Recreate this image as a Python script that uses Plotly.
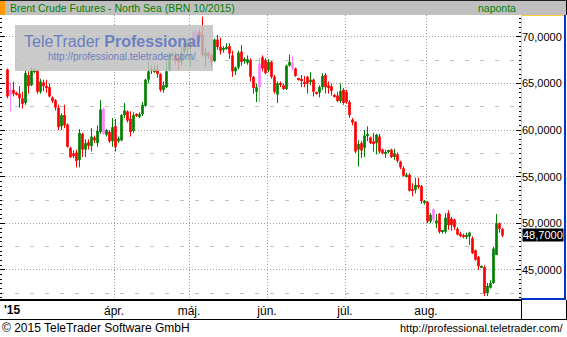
import pandas as pd
import plotly.graph_objects as go

# ---- data ----
dates = pd.bdate_range('2015-02-18', '2015-08-31', freq='C',
                       weekmask='Sun Mon Tue Wed Thu Fri', holidays=['2015-04-03'])

open_ = [66.5, 63.7, 64.3, 64.0, 63.9, 63.4, 62.9, 65.9, 64.8, 66.3,
         66.4, 64.1, 65.1, 64.7, 64.6, 63.5, 63.2, 62.4, 60.4, 61.6,
         60.6, 58.1, 57.5, 57.6, 56.8, 59.6, 57.9, 58.7, 58.3, 59.2,
         58.6, 59.8, 59.6, 59.5, 59.8, 58.8, 60.4, 58.8, 58.9, 61.6,
         62.0, 61.2, 59.9, 61.7, 61.5, 61.7, 62.6, 65.4, 66.5, 66.3,
         66.5, 66.0, 64.3, 64.6, 66.4, 68.0, 68.0, 67.8, 67.3, 68.4,
         69.3, 68.9, 69.4, 69.3, 70.5, 70.2, 67.9, 68.3, 68.0, 67.4,
         69.7, 68.9, 68.6, 68.7, 69.0, 68.0, 66.3, 66.7, 68.4, 67.4,
         67.2, 67.5, 65.7, 64.1, 64.6, 67.8, 67.5, 66.4, 67.3, 65.7,
         63.8, 65.0, 64.8, 64.4, 66.9, 66.6, 66.6, 65.5, 65.4, 65.1,
         65.7, 65.2, 65.4, 64.0, 64.0, 64.6, 65.9, 64.8, 64.7, 63.7,
         63.7, 63.1, 64.3, 64.1, 63.0, 61.1, 60.9, 57.9, 58.6, 58.1,
         59.4, 59.2, 58.8, 58.6, 59.3, 57.9, 57.5, 57.7, 57.9, 57.1,
         57.4, 56.6, 55.9, 55.0, 55.2, 53.6, 53.6, 54.0, 54.0, 52.2,
         52.3, 50.2, 50.4, 50.0, 51.0, 49.1, 49.1, 51.1, 50.5, 50.4,
         49.4, 48.9, 48.7, 48.6, 48.6, 48.4, 47.1, 46.4, 45.3, 45.3,
         42.5, 43.1, 43.6, 46.6, 50.0, 49.4]
high = [66.6, 65.1, 65.2, 64.1, 64.7, 64.1, 66.4, 66.3, 66.7, 66.6,
        66.5, 65.5, 65.4, 65.4, 65.0, 63.6, 63.3, 62.7, 61.8, 62.7,
        60.7, 58.2, 57.8, 57.9, 60.1, 59.7, 59.0, 59.0, 60.2, 59.4,
        60.5, 63.2, 62.4, 60.1, 60.0, 61.3, 61.2, 59.3, 61.7, 62.9,
        62.1, 62.0, 61.9, 61.8, 61.9, 63.0, 65.5, 67.3, 66.9, 67.0,
        67.0, 66.1, 65.2, 67.3, 68.4, 68.4, 68.4, 68.2, 68.9, 69.6,
        69.8, 69.6, 70.7, 70.8, 70.8, 72.15, 68.8, 68.4, 68.2, 69.8,
        70.2, 69.9, 69.0, 69.3, 69.3, 68.5, 66.8, 68.5, 69.1, 67.8,
        68.0, 67.7, 65.8, 65.0, 67.7, 68.0, 67.7, 67.6, 67.4, 65.9,
        65.2, 65.2, 65.0, 67.0, 68.1, 67.9, 66.7, 65.6, 65.9, 65.8,
        65.8, 66.2, 65.5, 64.1, 64.8, 66.1, 66.1, 65.2, 65.0, 63.9,
        64.1, 65.0, 64.5, 64.3, 63.2, 61.3, 60.9, 58.9, 58.8, 60.0,
        60.4, 59.3, 59.7, 59.6, 59.6, 58.0, 57.9, 57.9, 58.0, 58.0,
        57.6, 56.7, 56.1, 55.4, 55.4, 54.3, 54.9, 54.9, 54.1, 52.5,
        52.4, 51.1, 51.6, 51.0, 51.1, 49.3, 51.1, 51.4, 50.7, 50.5,
        49.6, 49.1, 48.9, 49.0, 49.1, 48.6, 47.2, 46.5, 45.5, 45.5,
        43.6, 43.9, 47.5, 51.0, 50.1, 49.5]
low = [63.4, 62.0, 63.6, 63.7, 62.4, 62.3, 62.7, 63.9, 64.7, 66.1,
       63.9, 63.9, 64.2, 64.0, 63.5, 62.9, 62.1, 60.0, 60.0, 60.2,
       58.1, 57.0, 57.0, 56.0, 56.0, 57.1, 57.1, 57.9, 57.7, 58.6,
       58.2, 59.6, 59.5, 59.3, 58.6, 58.2, 57.7, 58.6, 58.8, 61.3,
       60.8, 59.3, 59.7, 61.4, 61.3, 61.5, 62.5, 65.0, 66.0, 66.1,
       65.6, 64.1, 64.0, 64.5, 66.3, 67.8, 67.0, 66.4, 67.0, 68.2,
       68.0, 66.8, 69.1, 69.0, 69.5, 67.9, 66.8, 67.6, 66.8, 67.3,
       68.6, 68.1, 68.3, 68.6, 67.6, 65.7, 65.9, 66.5, 66.9, 67.1,
       67.0, 65.2, 63.9, 63.0, 63.0, 66.3, 66.0, 66.2, 65.5, 63.9,
       62.9, 64.6, 64.3, 64.3, 66.8, 66.4, 65.7, 65.3, 64.6, 64.6,
       63.9, 64.8, 63.6, 63.8, 63.5, 64.3, 63.9, 63.9, 63.7, 63.5,
       63.0, 62.9, 62.7, 62.8, 61.3, 60.5, 57.5, 56.1, 57.0, 57.1,
       58.8, 58.5, 57.7, 57.4, 57.5, 57.4, 57.0, 57.5, 57.0, 56.8,
       56.5, 55.8, 55.0, 54.9, 53.4, 52.9, 53.2, 53.7, 52.1, 52.0,
       50.0, 50.0, 50.2, 49.5, 48.9, 48.9, 48.9, 49.3, 49.2, 49.3,
       48.7, 48.5, 48.4, 48.3, 47.7, 46.7, 46.0, 45.0, 45.2, 42.2,
       42.2, 43.0, 43.5, 46.6, 49.0, 48.5]
close = [63.6, 64.3, 63.9, 63.8, 63.4, 62.8, 66.1, 64.7, 66.4, 66.45,
         64.1, 65.2, 64.7, 64.6, 63.6, 63.1, 62.4, 60.3, 61.6, 60.5,
         58.2, 57.1, 57.2, 56.7, 59.7, 57.9, 58.6, 58.3, 59.3, 58.9,
         59.9, 62.2, 62.3, 60.0, 58.8, 60.3, 58.2, 59.1, 61.6, 62.1,
         61.0, 59.8, 61.6, 61.6, 61.7, 62.7, 65.4, 66.3, 66.4, 66.5,
         66.0, 64.3, 64.8, 66.3, 68.1, 68.2, 67.4, 67.3, 68.3, 69.3,
         68.9, 69.4, 70.5, 70.6, 70.0, 68.1, 68.3, 67.9, 67.3, 69.7,
         68.9, 68.5, 68.7, 68.9, 68.2, 66.3, 66.7, 68.3, 67.3, 67.6,
         67.6, 65.7, 64.5, 64.6, 67.1, 66.6, 66.1, 67.3, 65.7, 64.1,
         65.0, 64.9, 64.4, 66.9, 67.3, 67.2, 65.8, 65.4, 65.3, 65.0,
         65.0, 65.4, 64.1, 63.9, 64.6, 65.8, 64.6, 64.6, 64.2, 63.6,
         63.1, 64.2, 62.9, 63.0, 61.6, 60.8, 57.7, 58.5, 57.8, 59.4,
         59.5, 58.6, 58.6, 59.5, 57.7, 57.5, 57.6, 57.8, 57.1, 57.5,
         56.7, 56.0, 55.1, 55.2, 53.5, 53.5, 54.1, 53.9, 52.4, 52.3,
         50.2, 50.9, 51.5, 50.3, 49.1, 49.2, 50.6, 49.8, 49.8, 49.6,
         48.8, 48.7, 48.6, 48.7, 49.0, 46.8, 46.1, 45.4, 45.4, 42.5,
         43.3, 43.6, 47.3, 50.0, 49.4, 48.7]
pink_idx = [1, 32, 62, 63, 84, 95, 142]

month_names = {4: 'ápr.', 5: 'máj.', 6: 'jún.', 7: 'júl.', 8: 'aug.'}
price_ticks = [45, 50, 55, 60, 65, 70]
last_price = close[-1]

title_text = 'Brent Crude Futures - North Sea (BRN 10/2015)'
period_text = 'naponta'
year_text = "'15"
footer_left = '© 2015 TeleTrader Software GmbH'
footer_right = 'http://professional.teletrader.com/'

# ---- styles ----
FONT = 'Liberation Sans, Arial, sans-serif'
GREEN, RED, PINK = '#008000', '#ff0000', '#ff80ff'
W, H = 567, 337
PL, PR, PT, PB = 0, 521, 15, 299          # plot area in pixels
YR = [41.89, 72.33]
XR = [-2.5, -2.5 + (PR - PL) / 3.0]


def px(x):
    return (x - PL) / (PR - PL)


def py(y):
    return (PB - y) / (PB - PT)


idx = list(range(len(dates)))
groups = {'g': GREEN, 'r': RED, 'p': PINK}
kind = []
for i in idx:
    if i in pink_idx:
        kind.append('p')
    elif close[i] >= open_[i]:
        kind.append('g')
    else:
        kind.append('r')

fig = go.Figure()
# bodies
for k, col in groups.items():
    sel = [i for i in idx if kind[i] == k]
    fig.add_trace(go.Bar(
        x=sel,
        base=[min(open_[i], close[i]) for i in sel],
        y=[max(abs(close[i] - open_[i]), 0.12) for i in sel],
        width=0.9, marker=dict(color=col, line=dict(width=0)),
        customdata=[dates[i].strftime('%Y-%m-%d') for i in sel],
        hovertemplate='%{customdata}<extra></extra>'))
# wicks (on the overlaid axis that also carries the 2.5-step dashed grid)
for k, col in groups.items():
    xs, ys = [], []
    for i in idx:
        if kind[i] == k:
            xs += [i, i, None]
            ys += [low[i], high[i], None]
    fig.add_trace(go.Scatter(x=xs, y=ys, yaxis='y2', mode='lines',
                             line=dict(color=col, width=1), hoverinfo='skip'))

month_pos, month_txt = [], []
for i in idx:
    if i > 0 and dates[i].month != dates[i - 1].month and dates[i].month in month_names:
        month_pos.append(i - 0.5)
        month_txt.append(month_names[dates[i].month])

shapes = []


def rect(x0, y0, x1, y1, fill, layer='above'):
    shapes.append(dict(type='rect', xref='paper', yref='paper', x0=px(x0), x1=px(x1),
                       y0=py(y0), y1=py(y1), fillcolor=fill, line=dict(width=0), layer=layer))


def line(x0, y0, x1, y1, col, w=1):
    shapes.append(dict(type='line', xref='paper', yref='paper', x0=px(x0), x1=px(x1),
                       y0=py(y0), y1=py(y1), line=dict(color=col, width=w), layer='above'))


rect(0, 0, 567, 15, '#c0c0c0')
line(0, 0.5, 567, 0.5, '#202020')
rect(0, 1, 5, 15, '#ff9900')
line(566.5, 0, 566.5, 15, '#000000')
# price axis panel
line(521.5, 15, 521.5, 299, '#ffcc33')
line(521, 15.5, 565, 15.5, '#ffcc33')
line(565, 15, 565, 300, '#0033cc', 2)
line(521, 299, 566, 299, '#0033cc', 2)
# time axis panel
line(0, 300, 521, 300, '#000000', 2)
line(0, 319.5, 567, 319.5, '#000000')
line(521.5, 300, 521.5, 320, '#000000')
line(566.5, 300, 566.5, 320, '#000000')
# watermark
rect(15, 25, 213, 71, 'rgba(190,190,190,0.82)')

ann = [
    dict(text=title_text, x=px(8), y=py(8), xanchor='left', yanchor='middle',
         font=dict(size=10.5, color=GREEN)),
    dict(text=period_text, x=px(518), y=py(8), xanchor='right', yanchor='middle',
         font=dict(size=10.5, color=GREEN)),
    dict(text='<b>' + year_text + '</b>', x=px(2), y=py(310), xanchor='left', yanchor='middle',
         font=dict(size=12)),
    dict(text=footer_left, x=px(0), y=py(328), xanchor='left', yanchor='middle',
         font=dict(size=12)),
    dict(text=footer_right, x=px(566), y=py(328), xanchor='right', yanchor='middle',
         font=dict(size=11)),
    dict(text=f'{last_price:.4f}'.replace('.', ','), x=px(522), y=last_price, yref='y',
         xanchor='left', yanchor='middle', bgcolor='#000000', borderpad=0,
         font=dict(size=11, color='white')),
    dict(text='TeleTrader <b>Professional</b>', x=px(112), y=py(41), xanchor='center',
         yanchor='middle', font=dict(size=16, color='#6c7fbf')),
    dict(text='http://professional.teletrader.com/', x=px(122), y=py(56), xanchor='center',
         yanchor='middle', font=dict(size=10, color='#6c7fbf')),
]
for a in ann:
    a.setdefault('xref', 'paper')
    a.setdefault('yref', 'paper')
    a['showarrow'] = False

fig.update_layout(
    width=W, height=H, autosize=False,
    margin=dict(l=PL, r=W - PR, t=PT, b=H - PB, pad=0),
    paper_bgcolor='white', plot_bgcolor='white', showlegend=False,
    barmode='overlay', separators=',.',
    font=dict(family=FONT, size=11, color='black'),
    xaxis=dict(range=XR, tickmode='array', tickvals=month_pos, ticktext=month_txt,
               showgrid=True, gridcolor='#a0a0a0', griddash='1px,2px', gridwidth=1,
               ticks='', zeroline=False, showline=False, tickfont=dict(size=12),
               ticklabelstandoff=3, fixedrange=True),
    yaxis=dict(side='right', range=YR, tickmode='array', tickvals=price_ticks,
               tickformat='.4f', showgrid=True, gridcolor='#a0a0a0', griddash='1px,2px',
               ticks='inside', ticklen=5, tickcolor='black', mirror='ticks',
               minor=dict(dtick=0.5, tick0=0, ticks='inside', ticklen=2, tickcolor='black',
                          showgrid=False),
               zeroline=False, showline=False, tickfont=dict(size=11), fixedrange=True),
    yaxis2=dict(overlaying='y', side='right', range=YR, tick0=2.5, dtick=5,
                showgrid=True, gridcolor='#c0c0c0', griddash='4px,11px',
                showticklabels=False, ticks='', zeroline=False, showline=False,
                fixedrange=True),
    shapes=shapes, annotations=ann,
)

fig.write_html('out.html')
